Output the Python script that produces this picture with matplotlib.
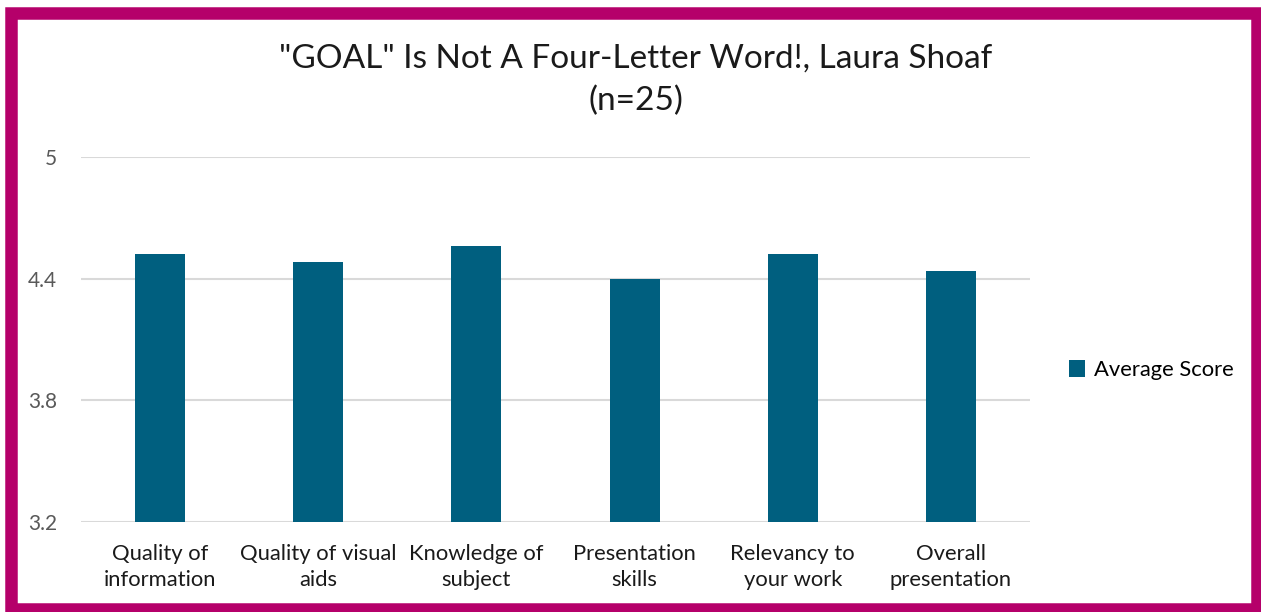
import matplotlib.pyplot as plt
from matplotlib.patches import Rectangle

# Данные диаграммы
categories = ['Quality of\ninformation', 'Quality of visual\naids', 'Knowledge of\nsubject',
              'Presentation\nskills', 'Relevancy to\nyour work', 'Overall\npresentation']
scores = [4.52, 4.48, 4.56, 4.40, 4.52, 4.44]
y_ticks = [3.2, 3.8, 4.4, 5.0]
y_tick_labels = ['3.2', '3.8', '4.4', '5']

plt.rcParams['font.family'] = ['Lato', 'DejaVu Sans']

fig = plt.figure(figsize=(12.61, 6.12), dpi=100)
ax = fig.add_axes([0.0642, 0.147, 0.7526, 0.5965])

x = range(len(categories))
ax.bar(x, scores, width=0.316, color='#005F7F', label='Average Score', zorder=3)

ax.set_ylim(3.2, 5.0)
ax.set_xlim(-0.5, len(categories) - 0.5)
ax.set_yticks(y_ticks)
ax.set_yticklabels(y_tick_labels)
ax.set_xticks(list(x))
ax.set_xticklabels(categories, fontsize=15.8, color='#1a1a1a', linespacing=1.38)
ax.tick_params(axis='y', labelsize=15, labelcolor='#595959', length=0, pad=17)
ax.tick_params(axis='x', length=0, pad=16)
ax.grid(axis='y', color='#D9D9D9', linewidth=1.5, zorder=0)
for s in ax.spines.values():
    s.set_visible(False)

# Заголовок
fig.text(0.504, 0.869, '"GOAL" Is Not A Four-Letter Word!, Laura Shoaf\n(n=25)',
         ha='center', va='center', fontsize=24, color='#1a1a1a', linespacing=1.5)

# Легенда
ax.legend(loc='center left', bbox_to_anchor=(1.02, 0.416), frameon=False,
          fontsize=15.8, handlelength=0.75, handleheight=0.75, handletextpad=0.4)

# Рамка
fig.patches.append(Rectangle((11 / 1261, 1 - 609 / 612), 1246 / 1261, 596 / 612,
                             transform=fig.transFigure, fill=False,
                             edgecolor='#B5006A', linewidth=9))

fig.savefig('out.png', dpi=100)
